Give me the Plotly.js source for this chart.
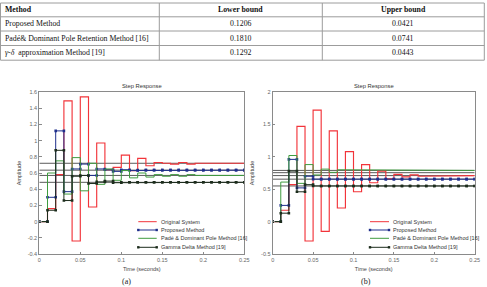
<!DOCTYPE html>
<html><head><meta charset="utf-8">
<script src="https://cdn.plot.ly/plotly-3.0.1.min.js"></script>
<style>html,body{margin:0;padding:0;background:#fff}#chart{width:487px;height:287px}</style>
</head><body><div id="chart"></div>
<script>
// ---- table data ----
const tableHeader = ['Method', 'Lower bound', 'Upper bound'];
const methods = ['Proposed Method', 'Padé& Dominant Pole Retention Method [16]', '<i>γ-δ</i>  approximation Method [19]'];
const lowerBound = ['0.1206', '0.1810', '0.1292'];
const upperBound = ['0.0421', '0.0741', '0.0443'];

// ---- step response data ----
const time = [0,0.01,0.02,0.03,0.04,0.05,0.06,0.07,0.08,0.09,0.10,0.11,0.12,0.13,0.14,0.15,0.16,0.17,0.18,0.19,0.20,0.21,0.22,0.23,0.24,0.25];
const seriesNames = ['Original System', 'Proposed Method', 'Padé & Dominant Pole Method [16]', 'Gamma Delta Method [19]'];

const originalA = [0,0.16,0.58,1.49,-0.24,1.54,0.18,0.97,0.64,0.67,0.82,0.63,0.78,0.69,0.73,0.72,0.71,0.73,0.71,0.72,0.72,0.72,0.72,0.72,0.72,0.72];
const proposedA = [0,0.30,1.12,0.37,0.65,0.71,0.57,0.65,0.64,0.62,0.64,0.63,0.635,0.635,0.635,0.635,0.635,0.635,0.635,0.635,0.635,0.635,0.635,0.635,0.635,0.635];
const padeA     = [0,0.60,0.75,0.34,0.79,0.38,0.72,0.46,0.65,0.51,0.63,0.54,0.60,0.55,0.58,0.56,0.58,0.56,0.58,0.57,0.57,0.57,0.57,0.57,0.57,0.57];
const gammaA    = [0,0.14,0.88,0.26,0.56,0.57,0.47,0.49,0.50,0.48,0.485,0.485,0.485,0.485,0.485,0.485,0.485,0.485,0.485,0.485,0.485,0.485,0.485,0.485,0.485,0.485];
const finalLinesA = [0.72, 0.635, 0.57, 0.485];

const originalB = [0,0.175,0.57,1.47,-0.30,1.72,-0.15,1.40,0.21,1.08,0.46,0.88,0.60,0.78,0.66,0.73,0.69,0.72,0.70,0.71,0.71,0.71,0.71,0.71,0.71,0.71];
const proposedB = [0,0.25,0.96,0.52,0.70,0.655,0.655,0.655,0.655,0.655,0.655,0.655,0.655,0.655,0.655,0.655,0.655,0.655,0.655,0.655,0.655,0.655,0.655,0.655,0.655,0.655];
const padeB     = [0,0.61,1.02,0.59,0.88,0.72,0.81,0.76,0.80,0.79,0.79,0.79,0.79,0.79,0.79,0.79,0.79,0.79,0.79,0.79,0.79,0.79,0.79,0.79,0.79,0.79];
const gammaB    = [0,0.13,0.78,0.46,0.57,0.55,0.55,0.55,0.55,0.55,0.55,0.55,0.55,0.55,0.55,0.55,0.55,0.55,0.55,0.55,0.55,0.55,0.55,0.55,0.55,0.55];
const finalLinesB = [0.79, 0.755, 0.71, 0.655, 0.55];

const xTickVals = [0,0.05,0.1,0.15,0.2,0.25];
const xTickText = ['0','0.05','0.1','0.15','0.2','0.25'];
const yTickValsA = [-0.4,-0.2,0,0.2,0.4,0.6,0.8,1,1.2,1.4,1.6];
const yTickTextA = ['-0.4','-0.2','0','0.2','0.4','0.6','0.8','1','1.2','1.4','1.6'];
const yTickValsB = [-0.5,0,0.5,1,1.5,2];
const yTickTextB = ['-0.5','0','0.5','1','1.5','2'];
const panelLabels = ['(a)', '(b)'];
const plotTitle = 'Step Response';
const xTitle = 'Time (seconds)';
const yTitle = 'Amplitude';

// ---- styling ----
const W = 487, H = 287;
const colors = ['#f2343a', '#1f2f8c', '#3f9c3f', '#1c2c1c'];
const markerOn = [false, true, false, true];
const sans = 'Liberation Sans, Arial, sans-serif';
const serif = 'Liberation Serif, Times New Roman, serif';
const px = (x) => x / W;
const py = (y) => 1 - y / H;

function stairs(t, v) {
  const xs = [], ys = [];
  for (let i = 0; i < v.length; i++) {
    xs.push(t[i]); ys.push(v[i]);
    if (i < v.length - 1) { xs.push(t[i + 1]); ys.push(v[i]); }
  }
  return { xs, ys };
}

const traces = [];
function addPanel(xa, ya, series, finals) {
  finals.forEach(f => {
    traces.push({ type: 'scatter', mode: 'lines', x: [time[0], time[time.length - 1]], y: [f, f],
      xaxis: xa, yaxis: ya, line: { color: '#5a5a5a', width: 1 }, showlegend: false, hoverinfo: 'skip' });
  });
  series.forEach((v, i) => {
    const s = stairs(time, v);
    traces.push({ type: 'scatter', mode: markerOn[i] ? 'lines+markers' : 'lines', x: s.xs, y: s.ys,
      xaxis: xa, yaxis: ya, name: seriesNames[i], showlegend: false,
      line: { color: colors[i], width: i === 0 ? 1.15 : 1 },
      marker: { color: colors[i], size: 2.6, symbol: 'square' } });
  });
}
addPanel('x', 'y', [originalA, proposedA, padeA, gammaA], finalLinesA);
addPanel('x2', 'y2', [originalB, proposedB, padeB, gammaB], finalLinesB);

const yDom = [py(254), py(92)];
function axisCommon() {
  return {
    showline: true, mirror: true, linecolor: '#8a8a8a', linewidth: 1,
    ticks: 'inside', ticklen: 2.5, tickcolor: '#8a8a8a', tickwidth: 1,
    showgrid: false, zeroline: false,
    tickfont: { family: sans, size: 5.5, color: '#666' }
  };
}
const layout = {
  width: W, height: H,
  margin: { l: 0, r: 0, t: 0, b: 0 },
  paper_bgcolor: '#fff', plot_bgcolor: '#fff',
  showlegend: false,
  xaxis: Object.assign(axisCommon(), { domain: [px(39.3), px(244.3)], anchor: 'y', range: [0, 0.25],
    tickvals: xTickVals, ticktext: xTickText,
    title: { text: xTitle, font: { family: sans, size: 5.5, color: '#444' }, standoff: 5 } }),
  yaxis: Object.assign(axisCommon(), { domain: yDom, anchor: 'x', range: [-0.4, 1.6],
    tickvals: yTickValsA, ticktext: yTickTextA,
    title: { text: yTitle, font: { family: sans, size: 5.5, color: '#444' }, standoff: 5 } }),
  xaxis2: Object.assign(axisCommon(), { domain: [px(272.7), px(474.7)], anchor: 'y2', range: [0, 0.25],
    tickvals: xTickVals, ticktext: xTickText,
    title: { text: xTitle, font: { family: sans, size: 5.5, color: '#444' }, standoff: 5 } }),
  yaxis2: Object.assign(axisCommon(), { domain: yDom, anchor: 'x2', range: [-0.5, 2],
    tickvals: yTickValsB, ticktext: yTickTextB,
    title: { text: yTitle, font: { family: sans, size: 5.5, color: '#444' }, standoff: 6 } }),
  annotations: [],
  shapes: []
};

// ---- table (grid lines + cell text) ----
const rowEdges = [3, 16.8, 31, 45.5, 60.2];
const colEdges = [0.5, 159.3, 322.3, 484.3];
const gridColor = '#9c9c9c';
rowEdges.forEach(y => layout.shapes.push({ type: 'line', xref: 'paper', yref: 'paper',
  x0: px(colEdges[0]), x1: px(colEdges[3]), y0: py(y), y1: py(y), line: { color: gridColor, width: 1 } }));
colEdges.forEach(x => layout.shapes.push({ type: 'line', xref: 'paper', yref: 'paper',
  x0: px(x), x1: px(x), y0: py(rowEdges[0]), y1: py(rowEdges[rowEdges.length - 1]), line: { color: gridColor, width: 1 } }));
const tableCols = [[tableHeader[0]].concat(methods), [tableHeader[1]].concat(lowerBound), [tableHeader[2]].concat(upperBound)];
tableCols.forEach((col, c) => {
  col.forEach((txt, r) => {
    const yc = (rowEdges[r] + rowEdges[r + 1]) / 2;
    const left = c === 0;
    layout.annotations.push({ xref: 'paper', yref: 'paper',
      x: left ? px(colEdges[0] + 2.3) : px((colEdges[c] + colEdges[c + 1]) / 2), y: py(yc),
      xanchor: left ? 'left' : 'center', yanchor: 'middle', showarrow: false,
      text: r === 0 ? '<b>' + txt + '</b>' : txt,
      font: { family: serif, size: 7.8, color: '#111' } });
  });
});

// panel titles and captions
[141.8, 373.7].forEach((c) => {
  layout.annotations.push({ xref: 'paper', yref: 'paper', x: px(c), y: py(86), text: plotTitle,
    showarrow: false, xanchor: 'center', yanchor: 'middle', font: { family: sans, size: 5.8, color: '#333' } });
});
[127, 366].forEach((x, i) => {
  layout.annotations.push({ xref: 'paper', yref: 'paper', x: px(x), y: py(281), text: panelLabels[i],
    showarrow: false, xanchor: 'center', yanchor: 'middle', font: { family: serif, size: 8, color: '#222' } });
});

// manual legends
const legendRows = [221.7, 230, 238.3, 247.3];
[[138.3, 156.7, 159.3], [370, 389, 391]].forEach(L => {
  seriesNames.forEach((n, i) => {
    const y = legendRows[i];
    layout.shapes.push({ type: 'line', xref: 'paper', yref: 'paper', x0: px(L[0]), x1: px(L[1]), y0: py(y), y1: py(y),
      line: { color: colors[i], width: 1 } });
    if (markerOn[i]) {
      [L[0], L[1]].forEach(mx => {
        layout.shapes.push({ type: 'rect', xref: 'paper', yref: 'paper', x0: px(mx - 1.2), x1: px(mx + 1.2), y0: py(y + 1.2), y1: py(y - 1.2),
          line: { width: 0 }, fillcolor: colors[i] });
      });
    }
    layout.annotations.push({ xref: 'paper', yref: 'paper', x: px(L[2]), y: py(y), text: n, showarrow: false,
      xanchor: 'left', yanchor: 'middle', font: { family: sans, size: 5.5, color: '#333' } });
  });
});

Plotly.newPlot('chart', traces, layout, { staticPlot: true, displayModeBar: false });
</script>
</body></html>
